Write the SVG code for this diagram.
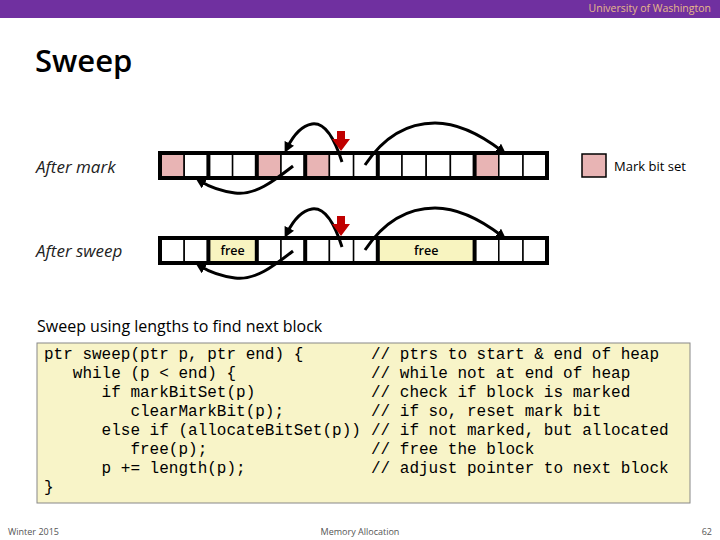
<svg xmlns="http://www.w3.org/2000/svg" width="720" height="540" viewBox="0 0 720 540">
<defs>
<style>
.c{fill:#fff;stroke:#000;stroke-width:1.5}
.p{fill:#E8B4B4;stroke:#000;stroke-width:1.5}
.f{fill:#F8F4C0;stroke:#000;stroke-width:1.5}
.b{fill:none;stroke:#000;stroke-width:4}
.a{fill:none;stroke:#000;stroke-width:3;marker-end:url(#ah)}
.lab{font-family:"Open Sans","Liberation Sans",sans-serif;font-style:italic;font-size:17px;fill:#222}
.code{font-family:"Liberation Mono",monospace;font-size:16px;fill:#000;white-space:pre}
.small{font-family:"Open Sans","Liberation Sans",sans-serif;font-size:9px;fill:#555}
</style>
<marker id="ah" viewBox="0 0 10 10" refX="5" refY="5" markerWidth="3.5" markerHeight="3.5" orient="auto"><path d="M0,0L10,5L0,10z" fill="#000"/></marker>
</defs>
<rect x="0" y="0" width="720" height="18" fill="#7030A0"/>
<text x="711" y="12" text-anchor="end" font-family="Open Sans,Liberation Sans,sans-serif" font-size="10.5" fill="#E6B98A">University of Washington</text>
<text x="35" y="72" font-family="Open Sans,Liberation Sans,sans-serif" font-size="31" font-weight="600" fill="#000">Sweep</text>
<text x="36" y="173" class="lab">After mark</text>
<text x="36" y="257" class="lab">After sweep</text>
<g id="legend"><rect x="582" y="154" width="24" height="23" class="p"/><text x="614" y="171" font-family="Open Sans,Liberation Sans,sans-serif" font-size="13" fill="#000">Mark bit set</text></g>
<g id="heap-mark">
<rect x="160" y="153" width="24.2" height="25" class="p"/>
<rect x="184.2" y="153" width="24.2" height="25" class="c"/>
<rect x="208.4" y="153" width="24.2" height="25" class="c"/>
<rect x="232.6" y="153" width="24.2" height="25" class="c"/>
<rect x="256.8" y="153" width="24.2" height="25" class="p"/>
<rect x="281" y="153" width="24.2" height="25" class="c"/>
<rect x="305.2" y="153" width="24.2" height="25" class="p"/>
<rect x="329.4" y="153" width="24.2" height="25" class="c"/>
<rect x="353.6" y="153" width="24.2" height="25" class="c"/>
<rect x="377.8" y="153" width="24.2" height="25" class="c"/>
<rect x="402" y="153" width="24.2" height="25" class="c"/>
<rect x="426.2" y="153" width="24.2" height="25" class="c"/>
<rect x="450.4" y="153" width="24.2" height="25" class="c"/>
<rect x="474.6" y="153" width="24.2" height="25" class="p"/>
<rect x="498.8" y="153" width="24.2" height="25" class="c"/>
<rect x="523" y="153" width="24.2" height="25" class="c"/>
<rect x="160" y="153" width="387" height="25" class="b"/>
<path d="M208.4,153V178M256.8,153V178M305.2,153V178M377.8,153V178M474.6,153V178" class="b"/>
</g>
<g id="heap-sweep">
<rect x="160" y="238" width="24.2" height="25" class="c"/>
<rect x="184.2" y="238" width="24.2" height="25" class="c"/>
<rect x="208.4" y="238" width="48.4" height="25" class="f"/>
<rect x="256.8" y="238" width="24.2" height="25" class="c"/>
<rect x="281" y="238" width="24.2" height="25" class="c"/>
<rect x="305.2" y="238" width="24.2" height="25" class="c"/>
<rect x="329.4" y="238" width="24.2" height="25" class="c"/>
<rect x="353.6" y="238" width="24.2" height="25" class="c"/>
<rect x="377.8" y="238" width="96.8" height="25" class="f"/>
<rect x="474.6" y="238" width="24.2" height="25" class="c"/>
<rect x="498.8" y="238" width="24.2" height="25" class="c"/>
<rect x="523" y="238" width="24.2" height="25" class="c"/>
<rect x="160" y="238" width="387" height="25" class="b"/>
<path d="M208.4,238V263M256.8,238V263M305.2,238V263M377.8,238V263M474.6,238V263" class="b"/>
<text x="232.6" y="255" text-anchor="middle" font-family="Open Sans,Liberation Sans,sans-serif" font-size="12.5" font-weight="600" fill="#000">free</text>
<text x="426.2" y="255" text-anchor="middle" font-family="Open Sans,Liberation Sans,sans-serif" font-size="12.5" font-weight="600" fill="#000">free</text>
</g>
<g id="connectors">
<path d="M342,162C335,140 325,122 312,124C300,126 292,138 287,148" class="a"/>
<path d="M365,165C385,135 410,123 435,123C460,123 485,138 502,151" class="a"/>
<path d="M293,166C275,180 255,196 235,193C220,191 208,186 200,181" class="a"/>
<path d="M342,247C335,225 325,207 312,209C300,211 292,223 287,233" class="a"/>
<path d="M365,250C385,220 410,208 435,208C460,208 485,223 502,236" class="a"/>
<path d="M293,251C275,265 255,281 235,278C220,276 208,271 200,266" class="a"/>
<path d="M337,131h8v8h5l-9,12l-9,-12h5z" fill="#C00000"/>
<path d="M337,216h8v8h5l-9,12l-9,-12h5z" fill="#C00000"/>
</g>
<text x="37" y="332" font-family="Open Sans,Liberation Sans,sans-serif" font-size="16" fill="#000">Sweep using lengths to find next block</text>
<rect x="37" y="343" width="653" height="160" fill="#F8F4C8" stroke="#888" stroke-width="1"/>
<text class="code" x="44" y="359">ptr sweep(ptr p, ptr end) {</text>
<text class="code" x="44" y="378">   while (p &lt; end) {</text>
<text class="code" x="44" y="397">      if markBitSet(p)</text>
<text class="code" x="44" y="416">         clearMarkBit(p);</text>
<text class="code" x="44" y="435">      else if (allocateBitSet(p))</text>
<text class="code" x="44" y="454">         free(p);</text>
<text class="code" x="44" y="473">      p += length(p);</text>
<text class="code" x="44" y="492">}</text>
<text class="code" x="371" y="359">// ptrs to start &amp; end of heap</text>
<text class="code" x="371" y="378">// while not at end of heap</text>
<text class="code" x="371" y="397">// check if block is marked</text>
<text class="code" x="371" y="416">// if so, reset mark bit</text>
<text class="code" x="371" y="435">// if not marked, but allocated</text>
<text class="code" x="371" y="454">// free the block</text>
<text class="code" x="371" y="473">// adjust pointer to next block</text>
<text class="small" x="8" y="535">Winter 2015</text>
<text class="small" x="360" y="535" text-anchor="middle">Memory Allocation</text>
<text class="small" x="712" y="535" text-anchor="end">62</text>
</svg>
